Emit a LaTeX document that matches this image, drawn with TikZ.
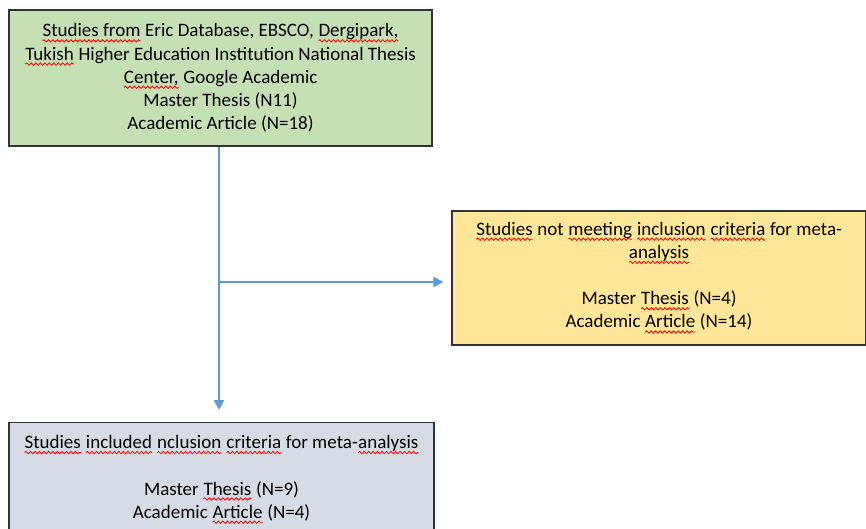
\documentclass[tikz,border=0pt]{standalone}
\usepackage{fontspec}
\setmainfont{Carlito}
\usepackage{tikz}
\usetikzlibrary{arrows.meta, decorations.pathmorphing}
\definecolor{boxgreen}{RGB}{197,224,180}
\definecolor{boxorange}{RGB}{255,230,153}
\definecolor{boxgrey}{RGB}{214,220,229}
\definecolor{flowblue}{RGB}{91,155,213}
\tikzset{wordnode/.style={inner sep=0pt, outer sep=0pt, minimum width=0pt, minimum height=0pt,
	draw=none, fill=none, anchor=center, line width=0.4pt}}
\newcommand{\sq}[1]{\tikz[baseline=(w.base)]{\node[wordnode] (w) {#1};
	\draw[red, line width=0.8pt, decorate, decoration={snake, amplitude=1.2pt, segment length=4.5pt}]
		([yshift=-4pt]w.base west) -- ([yshift=-4pt]w.base east);}}

\begin{document}
\begin{tikzpicture}[x=1pt,y=-1pt,
	box/.style={draw=black!80, line width=1.2pt, align=center, inner sep=0pt,
		font=\fontsize{19}{23.2}\selectfont},
	flow/.style={draw=flowblue, line width=2.4pt, -{Triangle[length=10pt,width=10pt]}}]
	\useasboundingbox (0,0) rectangle (866,529);

	\node[box, fill=boxgreen, minimum width=423pt, minimum height=136pt] (sources) at (220.5,78)
		{\sq{Studies from} Eric Database, EBSCO, \sq{Dergipark,}\\
		\sq{Tukish} Higher Education Institution National Thesis\\
		\sq{Center,} Google Academic\\
		Master Thesis (N11)\\
		Academic Article (N=18)};

	\node[box, fill=boxorange, minimum width=414pt, minimum height=134pt, text depth=6pt] (excluded) at (659,278)
		{\sq{Studies} not \sq{meeting} \sq{inclusion} \sq{criteria} for meta-\\
		\sq{analysis}\\[23.2pt]
		Master \sq{Thesis} (N=4)\\
		Academic \sq{Article} (N=14)};

	\node[box, fill=boxgrey, minimum width=425pt, minimum height=114pt, anchor=north] (included) at (221.5,422)
		{\sq{Studies} \sq{included} \sq{nclusion} \sq{criteria} for meta-\sq{analysis}\\[23.2pt]
		Master \sq{Thesis} (N=9)\\
		Academic \sq{Article} (N=4)};

	\coordinate (split) at (219,282);
	\draw[flow, shorten >=12pt] (split |- sources.south) -- (split |- included.north);
	\draw[flow, shorten >=8pt] (split) -- (excluded.west |- split);
\end{tikzpicture}
\end{document}
